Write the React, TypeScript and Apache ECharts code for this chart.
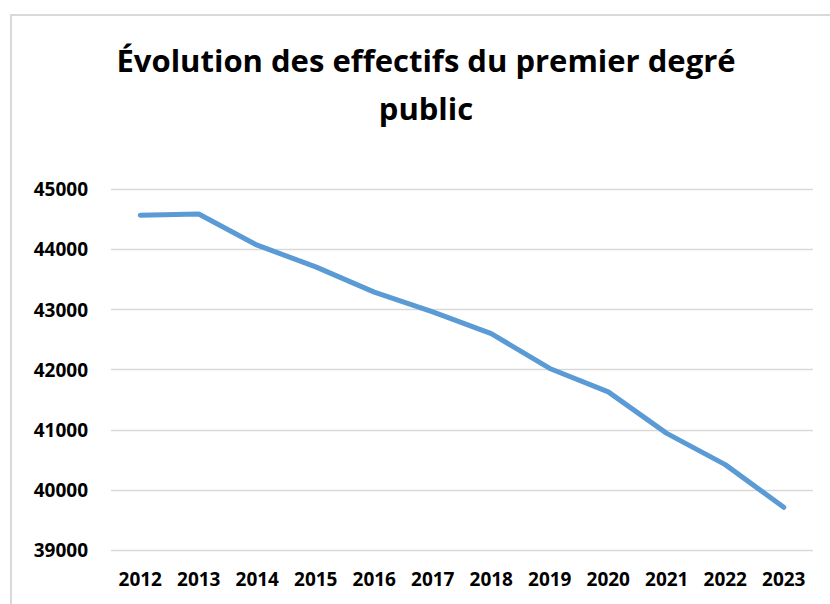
import React, { useEffect, useRef } from "react";
import * as echarts from "echarts";

const years = ["2012", "2013", "2014", "2015", "2016", "2017", "2018", "2019", "2020", "2021", "2022", "2023"];
const effectifs = [44570, 44590, 44070, 43710, 43290, 42960, 42600, 42020, 41630, 40940, 40420, 39710];
const titleLines = ["Évolution des effectifs du premier degré", "public"];
const yMin = 39000;
const yMax = 45000;
const yStep = 1000;

const FONT = "'Open Sans'";

export default function App() {
  const ref = useRef<HTMLDivElement>(null);
  useEffect(() => {
    document.body.style.margin = "0";
    const chart = echarts.init(ref.current!, null, { renderer: "svg" });
    chart.setOption({
      animation: false,
      backgroundColor: "#ffffff",
      grid: { left: 111, right: 17, top: 189.3, bottom: 54, containLabel: false },
      graphic: [
        {
          type: "rect",
          silent: true,
          shape: { x: 11, y: 15, width: 900, height: 800 },
          style: { fill: "none", stroke: "#d9d9d9", lineWidth: 2 },
        },
        {
          type: "text",
          x: 426,
          y: 60,
          style: {
            text: titleLines[0],
            font: `bold 31px ${FONT}`,
            fill: "#000000",
            align: "center",
            verticalAlign: "middle",
          },
        },
        {
          type: "text",
          x: 426,
          y: 108,
          style: {
            text: titleLines[1],
            font: `bold 31px ${FONT}`,
            fill: "#000000",
            align: "center",
            verticalAlign: "middle",
          },
        },
      ],
      xAxis: {
        type: "category",
        data: years,
        boundaryGap: true,
        axisLine: { show: false },
        axisTick: { show: false },
        axisLabel: {
          color: "#000000",
          fontFamily: FONT,
          fontWeight: "bold",
          fontSize: 19,
          margin: 19,
          interval: 0,
        },
      },
      yAxis: {
        type: "value",
        min: yMin,
        max: yMax,
        interval: yStep,
        axisLine: { show: false },
        axisTick: { show: false },
        splitLine: { lineStyle: { color: "#d9d9d9", width: 1.3 } },
        axisLabel: {
          color: "#000000",
          fontFamily: FONT,
          fontWeight: "bold",
          fontSize: 19,
          margin: 23,
          formatter: (v: number) => String(v),
        },
      },
      series: [
        {
          type: "line",
          data: effectifs,
          symbol: "none",
          lineStyle: { color: "#5b9bd5", width: 5, cap: "round", join: "round" },
        },
      ],
    });
    return () => chart.dispose();
  }, []);
  return <div ref={ref} style={{ width: 830, height: 604 }} />;
}
